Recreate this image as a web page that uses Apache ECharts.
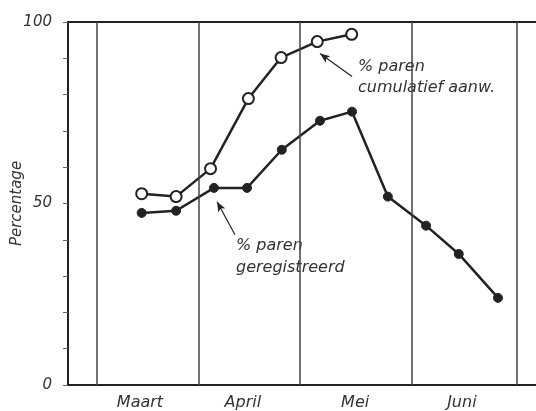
<!DOCTYPE html>
<html>
<head>
<meta charset="utf-8">
<script src="https://cdn.jsdelivr.net/npm/echarts@6/dist/echarts.min.js"></script>
<style>
  html, body { margin: 0; padding: 0; background: #fff; }
  #chart { width: 536px; height: 411px; }
</style>
</head>
<body>
<div id="chart"></div>
<script>
// x = days since 1 March
const monthNames = ["Maart", "April", "Mei", "Juni"];
const monthCenters = [12.5, 42.4, 75, 106];
const monthBounds = [0, 29.6, 59, 91.5, 122];

const daysCumulatief = [13, 23, 33, 44, 53.5, 64, 74];
const cumulatief = [52.7, 51.9, 59.6, 78.9, 90.2, 94.6, 96.6];

const daysGeregistreerd = [13, 23, 34, 43.6, 53.7, 64.8, 74.1, 84.5, 95.6, 105.1, 116.5];
const geregistreerd = [47.4, 48.0, 54.3, 54.3, 64.8, 72.8, 75.3, 51.9, 43.9, 36.1, 24.0];

const yLabels = [0, 50, 100];

const font = "DejaVu Sans";
const ink = "#222";

const chart = echarts.init(document.getElementById("chart"));

const option = {
  animation: false,
  grid: {
    left: 68,
    right: -4,
    top: 22,
    bottom: 26,
    outerBoundsMode: "none",
    containLabel: false,
    show: true,
    borderColor: ink,
    borderWidth: 2,
  },
  xAxis: {
    type: "value",
    min: -8.4,
    max: 128.7,
    axisLine: { show: true, onZero: false, lineStyle: { color: ink, width: 2 } },
    axisTick: { show: false },
    splitLine: { show: false },
    axisLabel: {
      customValues: monthCenters,
      formatter: function (v) {
        const i = monthCenters.indexOf(v);
        return i >= 0 ? monthNames[i] : "";
      },
      fontFamily: font,
      fontStyle: "italic",
      fontSize: 16,
      color: "#333",
      margin: 10,
    },
  },
  yAxis: {
    type: "value",
    min: 0,
    max: 100,
    interval: 10,
    name: "Percentage",
    nameLocation: "middle",
    nameGap: 43,
    nameMoveOverlap: false,
    nameTextStyle: { fontFamily: font, fontStyle: "italic", fontSize: 15, color: "#333" },
    axisLine: { show: true, onZero: false, lineStyle: { color: ink, width: 2 } },
    axisTick: { show: true, inside: false, length: 5, lineStyle: { color: "#666", width: 1 } },
    splitLine: { show: false },
    axisLabel: {
      formatter: function (v) {
        return yLabels.indexOf(v) >= 0 ? String(v) : "";
      },
      fontFamily: font,
      fontStyle: "italic",
      fontSize: 15,
      color: "#333",
      margin: 16,
    },
  },
  series: [
    {
      name: "maanden",
      type: "line",
      data: [],
      silent: true,
      markLine: {
        silent: true,
        symbol: "none",
        label: { show: false },
        lineStyle: { color: "#444", width: 1.5, type: "solid" },
        data: monthBounds.map((d) => ({ xAxis: d })),
      },
    },
    {
      name: "% paren geregistreerd",
      type: "line",
      data: daysGeregistreerd.map((d, i) => [d, geregistreerd[i]]),
      symbol: "circle",
      symbolSize: 9,
      lineStyle: { color: ink, width: 2.5 },
      itemStyle: { color: ink, borderColor: ink },
      markLine: {
        silent: true,
        symbol: ["arrow", "none"],
        symbolSize: [6, 10],
        label: { show: false },
        lineStyle: { color: ink, width: 1.2, type: "solid" },
        data: [[{ coord: [34.9, 50.5] }, { coord: [40.1, 41.4] }]],
      },
    },
    {
      name: "% paren cumulatief aanw.",
      type: "line",
      data: daysCumulatief.map((d, i) => [d, cumulatief[i]]),
      symbol: "circle",
      symbolSize: 11,
      lineStyle: { color: ink, width: 2.5 },
      itemStyle: { color: "#fff", borderColor: ink, borderWidth: 2 },
      markLine: {
        silent: true,
        symbol: ["arrow", "none"],
        symbolSize: [6, 10],
        label: { show: false },
        lineStyle: { color: ink, width: 1.2, type: "solid" },
        data: [[{ coord: [64.8, 91.3] }, { coord: [74.1, 85.0] }]],
      },
    },
  ],
  graphic: [
    {
      type: "text",
      left: 358,
      top: 56,
      style: {
        text: "% paren\ncumulatief aanw.",
        font: "italic 16px 'DejaVu Sans'",
        fill: "#333",
        lineHeight: 21,
      },
    },
    {
      type: "text",
      left: 236,
      top: 235,
      style: {
        text: "% paren\ngeregistreerd",
        font: "italic 16px 'DejaVu Sans'",
        fill: "#333",
        lineHeight: 22,
      },
    },
  ],
};

chart.setOption(option);
</script>
</body>
</html>
